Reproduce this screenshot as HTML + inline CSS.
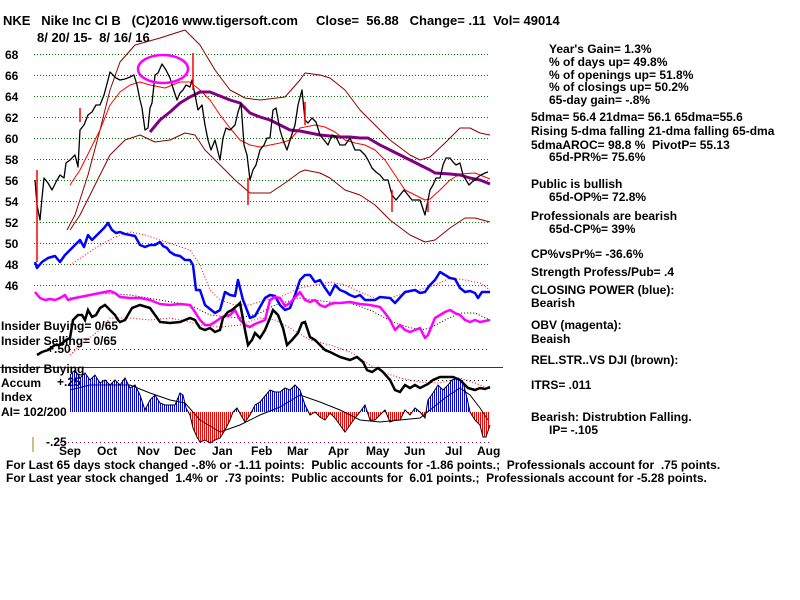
<!DOCTYPE html>
<html><head><meta charset="utf-8"><style>
body{margin:0;background:#fff;}
svg{display:block;font-family:"Liberation Sans",sans-serif;font-weight:bold;font-size:12px;}
text{white-space:pre;}
</style></head><body>
<svg width="800" height="600" viewBox="0 0 800 600" xmlns="http://www.w3.org/2000/svg">
<defs>
<pattern id="pb" width="2" height="4" patternUnits="userSpaceOnUse"><rect width="1" height="4" fill="#0000ff"/></pattern>
<pattern id="pr" width="2" height="4" patternUnits="userSpaceOnUse"><rect width="1" height="4" fill="#ff0000"/></pattern>
<clipPath id="ca"><rect x="0" y="300" width="800" height="112"/></clipPath>
<clipPath id="cb"><rect x="0" y="412" width="800" height="60"/></clipPath>
</defs>
<rect width="800" height="600" fill="#fff"/>
<g stroke="#008000" stroke-dasharray="1,2" stroke-width="1">
<line x1="34" x2="490" y1="54.5" y2="54.5"/><line x1="34" x2="490" y1="75.5" y2="75.5"/>
<line x1="34" x2="490" y1="96.5" y2="96.5"/><line x1="34" x2="490" y1="117.5" y2="117.5"/>
<line x1="34" x2="490" y1="138.5" y2="138.5"/><line x1="34" x2="490" y1="159.5" y2="159.5"/>
<line x1="34" x2="490" y1="180.5" y2="180.5"/><line x1="34" x2="490" y1="201.5" y2="201.5"/>
<line x1="34" x2="490" y1="222.5" y2="222.5"/><line x1="34" x2="490" y1="243.5" y2="243.5"/>
<line x1="34" x2="490" y1="264.5" y2="264.5"/><line x1="34" x2="490" y1="285.5" y2="285.5"/>
</g>
<g stroke="#800080" stroke-dasharray="1,3">
<line x1="70" x2="490" y1="349.5" y2="349.5"/><line x1="70" x2="490" y1="380.5" y2="380.5" stroke="#000"/>
<line x1="60" x2="490" y1="442.5" y2="442.5"/>
</g>
<line x1="0" x2="503" y1="367.5" y2="367.5" stroke="#800080"/>
<line x1="33" x2="33" y1="437" y2="452" stroke="#a08000"/>
<g font-size="12">
<text x="3" y="25" font-size="13">NKE   Nike Inc Cl B   (C)2016 www.tigersoft.com     Close=  56.88   Change= .11  Vol= 49014</text>
<text x="37" y="42" font-size="13">8/ 20/ 15-  8/ 16/ 16</text>
<text x="5" y="59">68</text><text x="5" y="80">66</text><text x="5" y="101">64</text><text x="5" y="122">62</text>
<text x="5" y="143">60</text><text x="5" y="164">58</text><text x="5" y="185">56</text><text x="5" y="206">54</text>
<text x="5" y="227">52</text><text x="5" y="248">50</text><text x="5" y="269">48</text><text x="5" y="290">46</text>
</g>
<g fill="none" stroke-linejoin="round">
<polyline stroke="#8b0000" points="67,230 75,215 88,175 100,130 110,90 120,62 135,45 160,38 185,30 200,45 215,70 230,90 245,98 260,100 285,97 300,80 305,73 320,75 330,78 345,90 360,110 375,125 390,140 410,155 420,160 430,157 445,143 460,128 470,128 480,133 490,135"/>
<polyline stroke="#8b0000" points="70,230 80,215 95,185 110,155 125,140 140,135 155,142 170,140 185,133 195,135 205,150 220,165 235,180 250,193 270,193 285,183 300,172 305,170 320,173 330,178 345,190 360,195 375,205 390,220 410,235 425,242 435,240 450,228 465,218 475,218 490,222"/>
<polyline stroke="#ff0000" points="70,185 80,170 90,150 100,130 110,105 120,92 130,85 140,82 150,85 165,88 180,82 190,82 200,90 210,100 220,115 230,128 240,140 250,145 260,147 270,145 280,143 290,140 300,128 315,125 325,127 335,132 345,140 355,143 365,145 375,150 385,160 395,175 405,190 415,195 425,200 430,199 440,190 450,180 460,174 475,173 490,179"/>
<polyline stroke="#800080" stroke-width="3" points="150,132 160,120 170,112 180,103 190,97 200,92 210,92 220,96 230,100 240,103 250,113 260,117 270,120 280,125 290,130 300,131 310,133 320,135 330,136 340,137 350,137 360,138 368,138 380,145 390,150 400,155 410,160 420,165 430,170 435,173 450,174 460,175 470,178 480,180 490,184"/>
<polyline stroke="#000" stroke-width="1.3" points="35,180 37,205 40,220 42,198 44,178 48,183 52,190 56,182 60,175 64,178 66,163 70,160 75,155 78,167 80,130 84,125 88,115 92,112 96,105 100,105 104,95 108,80 110,72 113,75 116,78 120,80 125,79 130,77 134,75 137,85 140,100 142,108 145,130 148,128 150,108 152,103 155,75 158,73 162,64 166,70 170,78 173,88 177,100 180,93 183,90 186,85 190,87 192,80 195,95 198,110 202,105 205,125 208,140 211,150 215,140 220,160 223,138 226,128 230,130 235,125 238,112 241,103 244,145 247,155 250,180 253,170 256,165 260,150 264,145 267,138 270,138 273,110 276,108 280,130 283,140 287,150 291,137 295,125 298,105 302,90 305,120 308,123 312,118 316,122 320,135 324,140 328,145 332,135 336,137 340,145 345,145 350,138 355,150 360,150 365,155 368,160 372,168 376,172 380,175 384,180 388,180 392,195 396,200 400,195 404,190 408,195 412,200 416,200 420,200 425,215 428,200 430,190 433,185 436,178 440,178 443,165 446,158 450,158 453,162 456,165 460,163 463,175 466,180 469,185 472,182 475,180 478,177 481,175 485,173 488,172"/>
<g stroke="#ff0000" stroke-width="1.5"><line x1="37" y1="170" x2="37" y2="262"/><line x1="80" y1="108" x2="80" y2="122"/><line x1="193" y1="53" x2="193" y2="90"/><line x1="248" y1="178" x2="248" y2="205"/><line x1="305" y1="102" x2="305" y2="125"/><line x1="392" y1="190" x2="392" y2="212"/><line x1="428" y1="200" x2="428" y2="212"/></g>
<ellipse cx="163" cy="69" rx="25" ry="14" stroke="#ff00ff" stroke-width="2.5"/>
<polyline stroke="#ff0000" stroke-dasharray="1,2" points="70,265 85,255 100,245 115,237 130,232 145,235 160,240 175,245 190,250 200,265 210,290 220,300 235,305 250,305 265,300 280,297 300,288 315,285 330,282 345,285 360,292 375,298 390,298 405,293 420,290 435,285 450,278 465,280 480,283 490,290"/>
<polyline stroke="#0000ff" stroke-width="2.5" points="35,262 37,268 42,262 48,258 55,256 60,262 65,255 70,250 75,245 80,240 84,247 88,235 92,240 96,236 100,232 104,228 108,223 112,230 116,233 120,232 125,234 130,235 135,236 140,245 145,247 150,245 155,245 160,242 163,246 167,248 170,252 175,255 180,256 185,260 190,260 193,265 196,290 200,290 205,305 215,313 220,310 225,292 230,295 235,296 238,280 243,300 245,305 250,318 255,316 260,307 265,298 270,295 275,296 280,305 285,310 290,308 295,295 300,280 305,275 310,275 315,282 320,280 325,288 330,295 335,285 340,290 345,292 350,295 355,297 360,295 365,300 375,300 380,297 390,298 395,303 405,292 415,290 420,293 425,292 430,285 435,280 440,272 445,275 450,278 455,279 460,288 465,292 470,291 475,293 478,298 482,292 490,292"/>
<polyline stroke="#000" stroke-dasharray="1,2" points="70,298 100,293 130,295 160,300 190,305 210,315 240,318 260,313 275,305 300,298 330,302 350,303 370,310 385,318 400,325 420,330 430,328 445,320 460,313 475,313 490,320"/>
<polyline stroke="#ff00ff" stroke-width="2.5" points="35,292 40,298 45,300 50,299 55,300 60,298 65,295 68,300 75,298 80,297 90,295 100,293 110,291 115,293 120,297 130,298 140,298 150,300 160,304 170,305 180,304 190,305 195,312 200,320 205,325 210,325 215,322 222,317 230,315 235,310 240,320 245,325 250,327 255,324 260,322 265,320 270,300 275,297 280,298 285,306 290,303 300,292 305,300 310,302 315,300 320,305 325,307 330,304 335,303 340,303 350,302 360,304 370,305 380,307 385,313 390,320 395,330 400,325 405,330 410,332 415,330 420,328 425,338 428,335 435,318 440,315 445,312 450,310 455,313 460,315 465,320 470,322 475,320 480,322 490,320"/>
<polyline stroke="#ff0000" stroke-dasharray="1,2" points="70,355 80,345 100,330 110,318 130,318 150,320 170,318 190,322 200,325 220,327 240,325 260,318 275,320 290,328 310,340 330,345 350,352 370,365 385,373 400,378 420,382 440,383 460,378 475,383 490,389"/>
</g>
<polygon clip-path="url(#ca)" fill="url(#pb)" points="70,412 70,375 75,370 80,378 85,373 90,380 95,375 100,383 105,380 110,385 115,380 120,385 125,378 130,388 135,385 140,395 145,410 150,400 155,395 160,403 165,405 170,405 175,405 180,393 183,395 186,408 190,415 193,428 197,437 200,442 205,440 210,443 215,440 220,438 225,430 230,420 233,412 237,408 242,417 245,422 250,415 255,405 260,402 265,396 270,390 275,392 280,392 285,388 290,390 295,385 300,390 305,405 310,415 315,412 320,417 325,420 330,413 335,418 340,425 345,432 350,425 355,418 360,412 365,405 370,420 375,420 380,415 385,410 390,422 395,420 400,420 405,410 410,415 415,408 420,412 425,418 428,400 433,393 438,385 443,390 448,385 452,380 458,378 463,382 467,398 470,412 475,420 480,425 483,437 486,437 490,425 490,412"/>
<polygon clip-path="url(#cb)" fill="url(#pr)" points="70,412 70,375 75,370 80,378 85,373 90,380 95,375 100,383 105,380 110,385 115,380 120,385 125,378 130,388 135,385 140,395 145,410 150,400 155,395 160,403 165,405 170,405 175,405 180,393 183,395 186,408 190,415 193,428 197,437 200,442 205,440 210,443 215,440 220,438 225,430 230,420 233,412 237,408 242,417 245,422 250,415 255,405 260,402 265,396 270,390 275,392 280,392 285,388 290,390 295,385 300,390 305,405 310,415 315,412 320,417 325,420 330,413 335,418 340,425 345,432 350,425 355,418 360,412 365,405 370,420 375,420 380,415 385,410 390,422 395,420 400,420 405,410 410,415 415,408 420,412 425,418 428,400 433,393 438,385 443,390 448,385 452,380 458,378 463,382 467,398 470,412 475,420 480,425 483,437 486,437 490,425 490,412"/>
<g fill="none">
<polyline stroke="#000" stroke-width="1" points="70,375 75,370 80,378 85,373 90,380 95,375 100,383 105,380 110,385 115,380 120,385 125,378 130,388 135,385 140,395 145,410 150,400 155,395 160,403 165,405 170,405 175,405 180,393 183,395 186,408 190,415 193,428 197,437 200,442 205,440 210,443 215,440 220,438 225,430 230,420 233,412 237,408 242,417 245,422 250,415 255,405 260,402 265,396 270,390 275,392 280,392 285,388 290,390 295,385 300,390 305,405 310,415 315,412 320,417 325,420 330,413 335,418 340,425 345,432 350,425 355,418 360,412 365,405 370,420 375,420 380,415 385,410 390,422 395,420 400,420 405,410 410,415 415,408 420,412 425,418 428,400 433,393 438,385 443,390 448,385 452,380 458,378 463,382 467,398 470,412 475,420 480,425 483,437 486,437 490,425"/>
<polyline stroke="#000" stroke-width="1" points="70,390 90,385 110,385 130,385 150,393 170,400 185,403 200,420 220,432 240,425 260,415 280,407 300,395 320,402 340,410 360,420 380,422 400,420 420,418 430,410 445,398 460,388 470,395 480,408 488,420"/>
<polyline stroke="#000" stroke-width="2.5" points="37,355 42,352 48,350 55,345 60,345 66,340 70,338 73,320 78,315 82,315 85,320 88,310 92,317 96,315 100,308 105,305 110,310 115,315 118,320 120,322 125,320 132,308 140,305 150,308 160,322 170,323 180,322 190,318 195,320 198,325 200,328 205,330 210,328 215,332 220,330 223,318 228,312 232,310 238,305 240,303 245,330 248,345 252,340 255,333 260,338 265,330 270,318 273,310 278,315 283,328 287,345 292,340 298,333 302,323 305,322 310,337 315,340 320,345 325,350 330,352 340,357 350,360 357,357 363,362 367,370 372,372 378,368 383,372 390,380 395,390 400,392 405,385 410,388 415,385 420,388 428,384 433,380 440,377 447,377 453,377 460,380 468,388 475,390 480,388 485,389 490,387"/>
</g>
<g font-size="12">
<text x="1" y="330">Insider Buying= 0/65</text>
<text x="1" y="345">Insider Selling= 0/65</text>
<text x="47" y="353">+.50</text>
<text x="1" y="373">Insider Buying</text>
<text x="1" y="387">Accum</text><text x="57" y="386">+.25</text>
<text x="1" y="401">Index</text>
<text x="1" y="416">AI= 102/200</text>
<text x="46" y="446">-.25</text>
<text x="59" y="455">Sep</text><text x="97" y="455">Oct</text><text x="137" y="455">Nov</text><text x="174" y="455">Dec</text>
<text x="212" y="455">Jan</text><text x="251" y="455">Feb</text><text x="287" y="455">Mar</text><text x="328" y="455">Apr</text>
<text x="366" y="455">May</text><text x="404" y="455">Jun</text><text x="445" y="455">Jul</text><text x="477" y="455">Aug</text>
<text x="6" y="469">For Last 65 days stock changed -.8% or -1.11 points:  Public accounts for -1.86 points.;  Professionals account for  .75 points.</text>
<text x="6" y="482">For Last year stock changed  1.4% or  .73 points:  Public accounts for  6.01 points.;  Professionals account for -5.28 points.</text>
<text x="549" y="53">Year's Gain= 1.3%</text>
<text x="549" y="66">% of days up= 49.8%</text>
<text x="549" y="79">% of openings up= 51.8%</text>
<text x="549" y="91">% of closings up= 50.2%</text>
<text x="549" y="104">65-day gain= -.8%</text>
<text x="531" y="121">5dma= 56.4 21dma= 56.1 65dma=55.6</text>
<text x="531" y="135">Rising 5-dma falling 21-dma falling 65-dma</text>
<text x="531" y="149">5dmaAROC= 98.8 %  PivotP= 55.13</text>
<text x="549" y="161">65d-PR%= 75.6%</text>
<text x="531" y="188">Public is bullish</text>
<text x="549" y="201">65d-OP%= 72.8%</text>
<text x="531" y="220">Professionals are bearish</text>
<text x="549" y="233">65d-CP%= 39%</text>
<text x="531" y="258">CP%vsPr%= -36.6%</text>
<text x="531" y="276">Strength Profess/Pub= .4</text>
<text x="531" y="294">CLOSING POWER (blue):</text>
<text x="531" y="307">Bearish</text>
<text x="531" y="329">OBV (magenta):</text>
<text x="531" y="343">Beaish</text>
<text x="531" y="364">REL.STR..VS DJI (brown):</text>
<text x="531" y="389">ITRS= .011</text>
<text x="531" y="421">Bearish: Distrubtion Falling.</text>
<text x="549" y="434">IP= -.105</text>
</g>
</svg>
</body></html>
